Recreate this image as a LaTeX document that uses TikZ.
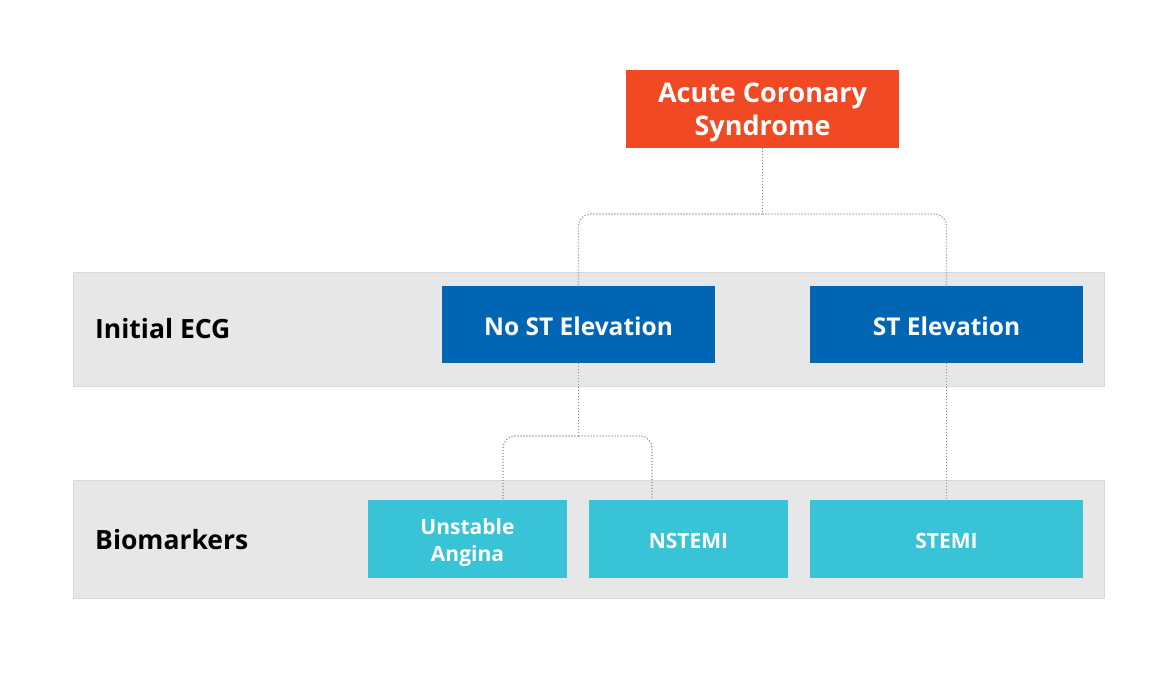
\documentclass[tikz,border=0pt]{standalone}
\usepackage{fontspec}
\setmainfont{Open Sans}
\usetikzlibrary{calc}
\definecolor{acsorange}{HTML}{F04923}
\definecolor{ecgblue}{HTML}{0066B3}
\definecolor{biocyan}{HTML}{38C3D6}
\definecolor{bandgray}{HTML}{E7E7E7}
\definecolor{bandline}{HTML}{D8D8D8}
\definecolor{conngray}{HTML}{8C8C8C}
\newcommand{\liftdown}[1]{\rule{0pt}{#1}}
\tikzset{
  band/.style={fill=bandgray, draw=bandline, line width=0.8bp},
  boxbase/.style={rectangle, inner sep=0pt, align=center, text=white, font=\bfseries},
  acsbox/.style={boxbase, fill=acsorange, minimum width=273bp, minimum height=78bp, font=\bfseries\fontsize{27bp}{33bp}\selectfont},
  ecgbox/.style={boxbase, fill=ecgblue, minimum width=273bp, minimum height=77bp, font=\bfseries\fontsize{24.5bp}{30bp}\selectfont},
  biobox/.style={boxbase, fill=biocyan, minimum height=78bp, font=\bfseries\fontsize{21bp}{27bp}\selectfont},
  rowlabel/.style={anchor=west, inner sep=0pt, text=black, font=\bfseries\fontsize{26.5bp}{30bp}\selectfont},
  conn/.style={draw=conngray, line width=1.1bp, dash pattern=on 1.1bp off 1.9bp},
}
\begin{document}
\begin{tikzpicture}[x=1bp, y=-1bp]
\useasboundingbox (0,0) rectangle (1156,691);
\fill[white] (0,0) rectangle (1156,691);
% bands
\draw[band] (73,272) rectangle (1104,386);
\draw[band] (73,480) rectangle (1104,598);
\node[rowlabel] (lecg) at (95,329) {Initial ECG};
\node[rowlabel] (lbio) at (95,540) {Biomarkers};
% nodes
\node[acsbox] (acs) at (762.5,109) {\liftdown{27bp}Acute Coronary\\Syndrome};
\node[ecgbox] (nost) at (578.5,324.5) {\liftdown{22.5bp}No ST Elevation};
\node[ecgbox] (st) at (946.5,324.5) {\liftdown{22.5bp}ST Elevation};
\node[biobox, minimum width=199bp] (ua) at (467.5,539) {\liftdown{22.5bp}Unstable\\Angina};
\node[biobox, minimum width=199bp] (nstemi) at (688.5,539) {\liftdown{19.5bp}NSTEMI};
\node[biobox, minimum width=273bp] (stemi) at (946.5,539) {\liftdown{19.5bp}STEMI};
% connectors
\coordinate (j1) at (762.5,214);
\coordinate (j2) at (578.5,436);
\draw[conn] (acs.south) -- (j1);
\draw[conn, rounded corners=12bp] (j1) -| (nost.north);
\draw[conn, rounded corners=12bp] (j1) -| (st.north);
\draw[conn] (nost.south) -- (j2);
\draw[conn, rounded corners=12bp] (j2) -| ([xshift=35.5bp]ua.north);
\draw[conn, rounded corners=12bp] (j2) -| ([xshift=-36.5bp]nstemi.north);
\draw[conn] (st.south) -- (stemi.north);
\end{tikzpicture}
\end{document}
